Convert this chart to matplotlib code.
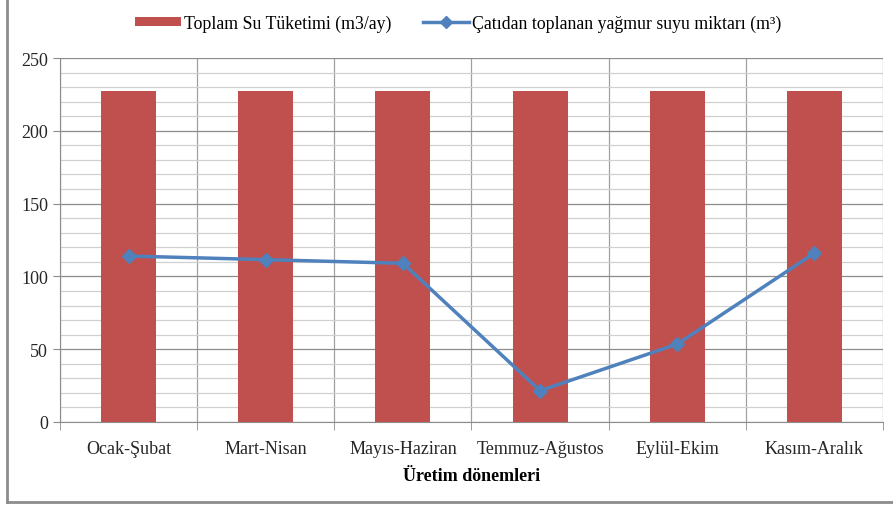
import numpy as np
import matplotlib.pyplot as plt
from matplotlib.lines import Line2D
from matplotlib.patches import Patch
from matplotlib.ticker import MultipleLocator

# dati
donemler = ["Ocak-Şubat", "Mart-Nisan", "Mayıs-Haziran", "Temmuz-Ağustos", "Eylül-Ekim", "Kasım-Aralık"]
tuketim = [227, 227, 227, 227, 227, 227]
yagmur = [114, 111.5, 109, 21.5, 53.5, 116]

plt.rcParams['font.family'] = ['Liberation Serif', 'DejaVu Serif']

fig = plt.figure(figsize=(8.93, 5.06), dpi=100)
ax = fig.add_axes([60 / 893, 83 / 506, 823 / 893, 364 / 506])

x = np.arange(len(donemler))
ax.bar(x, tuketim, width=0.4, color='#c0504d', zorder=3)
ax.plot(x, yagmur, color='#4f81bd', lw=2.5, marker='D', markersize=7, zorder=4)

ax.set_xlim(-0.5, len(donemler) - 0.5)
ax.set_ylim(0, 250)
ax.yaxis.set_major_locator(MultipleLocator(50))
ax.yaxis.set_minor_locator(MultipleLocator(10))
ax.grid(which='major', axis='y', color='#8c8c8c', lw=0.9, zorder=0)
ax.grid(which='minor', axis='y', color='#d0d0d0', lw=0.9, zorder=0)

# dikey ayırıcılar
ax.set_xticks(np.arange(len(donemler) + 1) - 0.5, minor=True)
ax.set_xticks(x)
ax.set_xticklabels(donemler, fontsize=13, color='#262626')
ax.grid(which='minor', axis='x', color='#a0a0a0', lw=0.9, zorder=0)
ax.tick_params(axis='x', which='major', length=0, pad=13)
ax.tick_params(axis='x', which='minor', length=6, color='#8c8c8c')
ax.tick_params(axis='y', which='major', length=5, color='#8c8c8c', labelsize=13, labelcolor='#262626')
ax.tick_params(axis='y', which='minor', length=0)

for s in ['top', 'right']:
    ax.spines[s].set_visible(False)
for s in ['left', 'bottom']:
    ax.spines[s].set_color('#8c8c8c')

ax.set_xlabel('Üretim dönemleri', fontsize=13, fontweight='bold', labelpad=7)

handles = [Patch(facecolor='#c0504d', edgecolor='none'),
           Line2D([], [], color='#4f81bd', lw=2.5, marker='D', markersize=6)]
fig.legend(handles, ['Toplam Su Tüketimi (m3/ay)', 'Çatıdan toplanan yağmur suyu miktarı (m³)'],
           loc='center', bbox_to_anchor=(0.513, 0.952), ncol=2, frameon=False, fontsize=12.8,
           handlelength=2.6, handleheight=0.45, handletextpad=0.15, columnspacing=1.8)

# dış çerçeve
fig.add_artist(Line2D([6.5 / 893, 6.5 / 893], [1, 3.5 / 506], transform=fig.transFigure, color='#8c8c8c', lw=2))
fig.add_artist(Line2D([6.5 / 893, 1], [3.5 / 506, 3.5 / 506], transform=fig.transFigure, color='#8c8c8c', lw=2))

fig.savefig('out.png', dpi=100)
